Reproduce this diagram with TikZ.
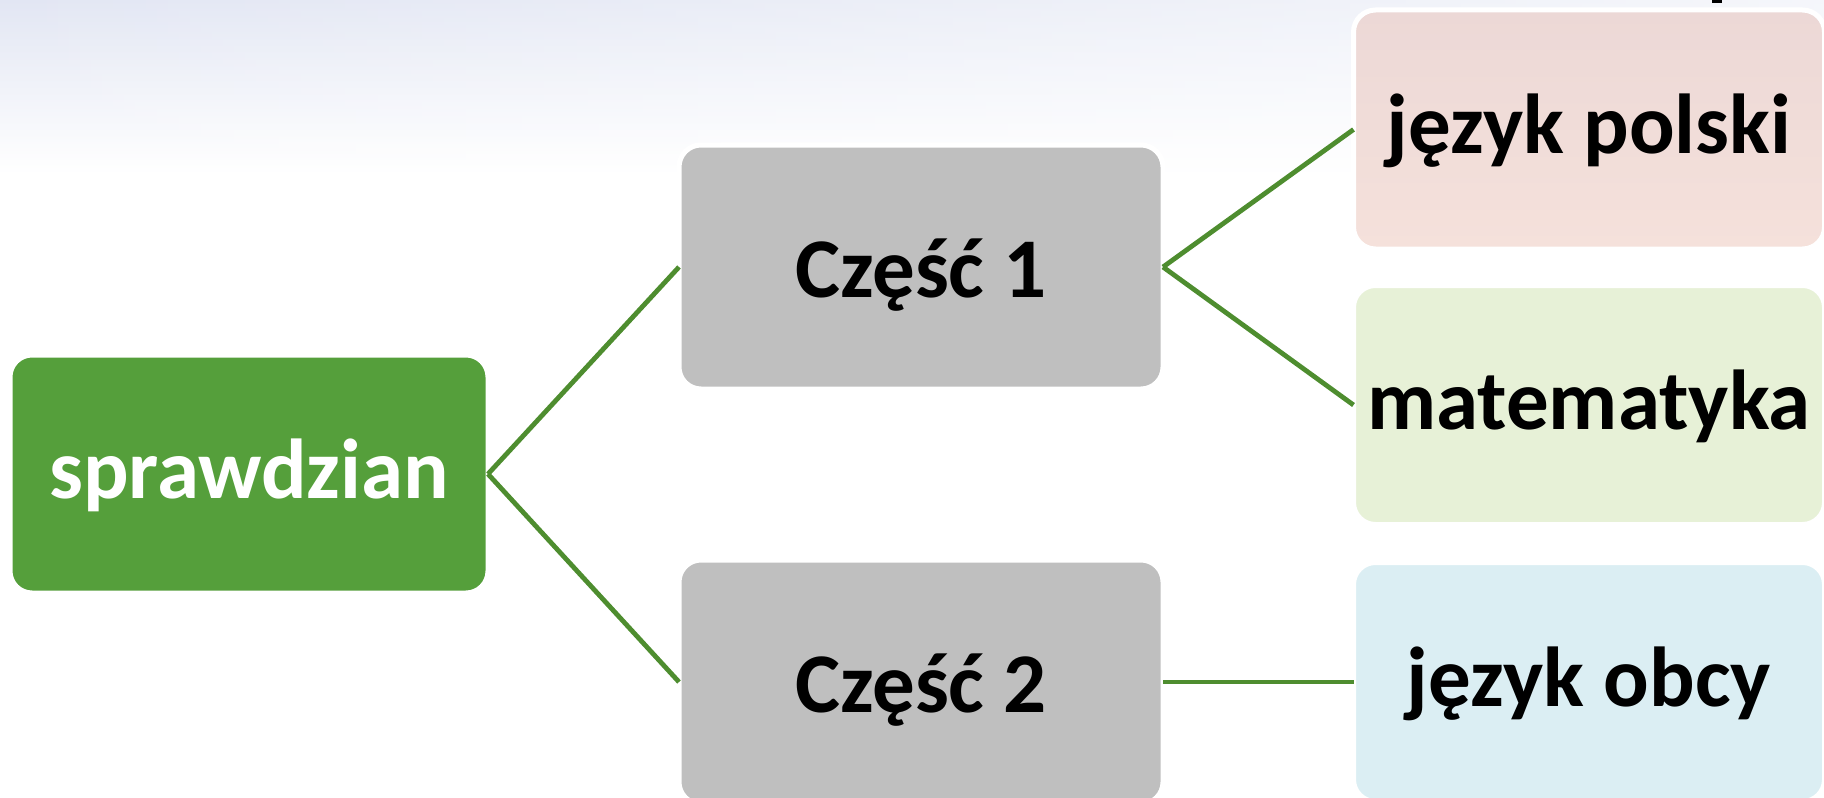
\documentclass[tikz,border=0pt]{standalone}
\usepackage{fontspec}
\setmainfont{Carlito}
\usetikzlibrary{fadings}

\definecolor{rootgreen}{RGB}{85,159,59}
\definecolor{partgray}{RGB}{191,191,191}
\definecolor{linkgreen}{RGB}{78,141,47}
\definecolor{pinktop}{RGB}{236,216,214}
\definecolor{pinkbot}{RGB}{245,225,219}
\definecolor{mathgreen}{RGB}{231,241,215}
\definecolor{langblue}{RGB}{219,238,243}
\definecolor{hazetop}{RGB}{226,230,243}

\tikzfading[name=hazefade, left color=transparent!0, right color=transparent!65]

\begin{document}
\begin{tikzpicture}[x=0.5pt, y=-0.5pt,
  box/.style={rounded corners=11pt, draw=white, line width=2.5pt,
    inner sep=0pt, outer sep=0pt, align=center,
    font=\fontsize{42.5}{51}\selectfont\bfseries},
  lowtext/.style={text height=32pt, text depth=8pt},
  captext/.style={text height=38pt, text depth=8pt},
  rootbox/.style={box, fill=rootgreen, text=white, minimum width=239pt, minimum height=119pt},
  partbox/.style={box, fill=partgray, text=black, minimum width=242pt, minimum height=122pt},
  subjbox/.style={box, text=black, minimum width=235.5pt, minimum height=119.5pt},
  link/.style={draw=linkgreen, line width=2.4pt}]

\useasboundingbox (0,0) rectangle (1824,797);
\clip (0,0) rectangle (1824,797);

% soft haze along the top edge
\shade[top color=hazetop, bottom color=white, path fading=hazefade]
  (0,0) rectangle (1824,175);
\fill[black] (1712,0) rectangle (1722,3);

% tree nodes
\node[rootbox, lowtext] (spr) at (249,474) {sprawdzian};
\node[partbox, captext] (c1) at (921,267) {Część 1};
\node[partbox, captext] (c2) at (921,682) {Część 2};
\node[subjbox, lowtext, top color=pinktop, bottom color=pinkbot] (jp) at (1589,129.5) {język polski};
\node[subjbox, lowtext, fill=mathgreen] (mat) at (1589,405) {matematyka};
\node[subjbox, lowtext, fill=langblue] (jo) at (1589,682) {język obcy};

% connectors
\draw[link] (spr.east) -- (c1.west);
\draw[link] (spr.east) -- (c2.west);
\draw[link] (c1.east) -- (jp.west);
\draw[link] (c1.east) -- (mat.west);
\draw[link] (c2.east) -- (jo.west);
\end{tikzpicture}
\end{document}
